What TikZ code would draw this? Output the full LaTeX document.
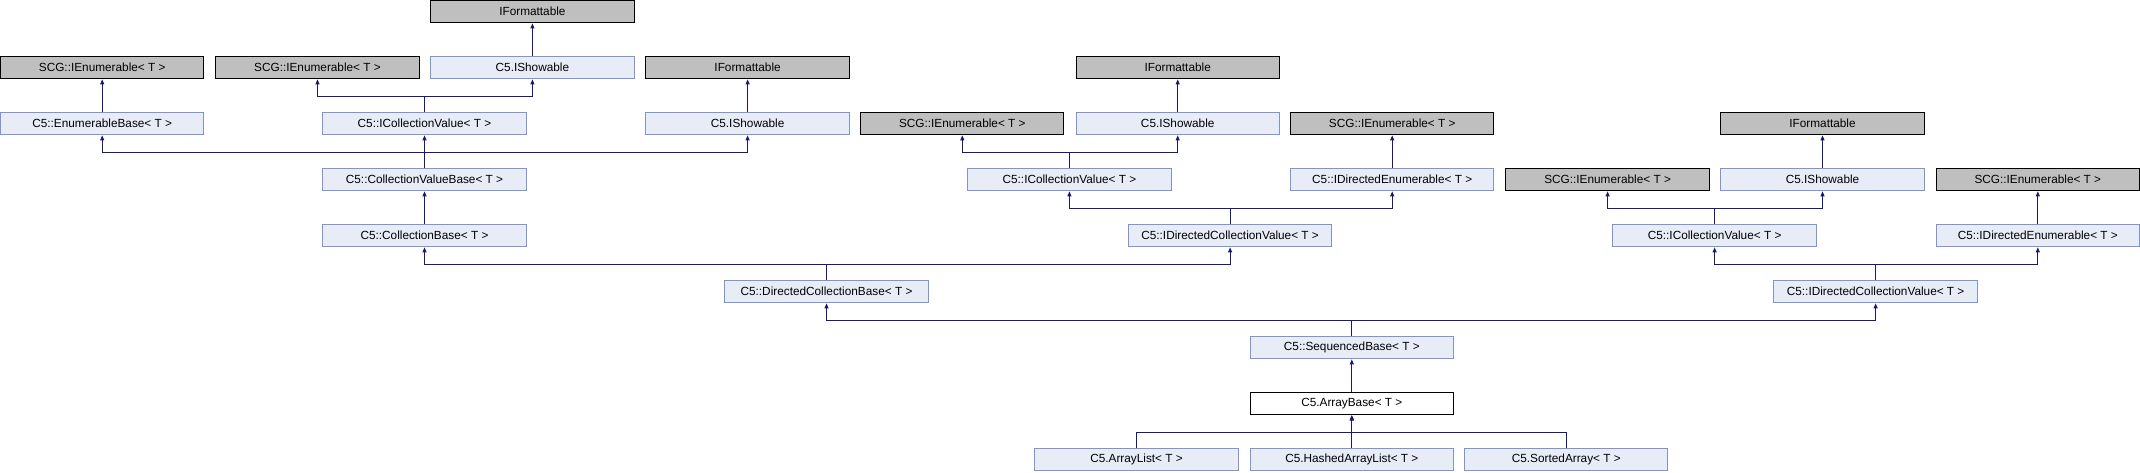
\documentclass[tikz,border=0pt]{standalone}
\usepackage{fontspec}
\setmainfont{Liberation Sans}
\usetikzlibrary{arrows.meta,positioning}
\definecolor{edgeblue}{HTML}{191970}
\definecolor{clsfill}{HTML}{E8ECF6}
\definecolor{clsdraw}{HTML}{7C95CE}
\definecolor{extfill}{HTML}{BFBFBF}

\begin{document}
\begin{tikzpicture}[x=1pt, y=1pt,
  cls/.style={rectangle, draw=#1, line width=1pt, minimum width=203.3pt, minimum height=22.3pt, inner sep=0pt, font=\fontsize{11.8}{13}\selectfont},
  cls/.default=clsdraw,
  inh/.style={cls, fill=clsfill},
  ext/.style={cls=black, fill=extfill},
  cur/.style={cls=black, fill=white},
  arr/.style={-{Triangle[length=5pt, width=4pt]}, line width=1pt, edgeblue}
]
  \useasboundingbox (0,0) rectangle (2140,-472);

  % left group
  \node[ext] (fmtA) at (532.4,-11.7) {IFormattable};
  \node[ext] (enumA) at (102.2,-67.7) {SCG::IEnumerable< T >};
  \node[ext] (enumB) at (317.5,-67.7) {SCG::IEnumerable< T >};
  \node[inh] (showA) at (532.4,-67.7) {C5.IShowable};
  \node[ext] (fmtB) at (747.6,-67.7) {IFormattable};
  \node[inh] (enumBase) at (102.2,-123.7) {C5::EnumerableBase< T >};
  \node[inh] (colValA) at (424.5,-123.7) {C5::ICollectionValue< T >};
  \node[inh] (showB) at (747.6,-123.7) {C5.IShowable};
  \node[inh] (colValBase) at (424.5,-179.7) {C5::CollectionValueBase< T >};
  \node[inh] (colBase) at (424.5,-235.7) {C5::CollectionBase< T >};

  % middle group
  \node[ext] (fmtC) at (1177.7,-67.7) {IFormattable};
  \node[ext] (enumC) at (962.3,-123.7) {SCG::IEnumerable< T >};
  \node[inh] (showC) at (1177.7,-123.7) {C5.IShowable};
  \node[ext] (enumD) at (1392.2,-123.7) {SCG::IEnumerable< T >};
  \node[inh] (colValB) at (1069.4,-179.7) {C5::ICollectionValue< T >};
  \node[inh] (dirEnumA) at (1392.2,-179.7) {C5::IDirectedEnumerable< T >};
  \node[inh] (dirColValA) at (1230.1,-235.7) {C5::IDirectedCollectionValue< T >};

  % right group
  \node[ext] (fmtD) at (1822.5,-123.7) {IFormattable};
  \node[ext] (enumE) at (1607.6,-179.7) {SCG::IEnumerable< T >};
  \node[inh] (showD) at (1822.5,-179.7) {C5.IShowable};
  \node[ext] (enumF) at (2037.8,-179.7) {SCG::IEnumerable< T >};
  \node[inh] (colValC) at (1714.6,-235.7) {C5::ICollectionValue< T >};
  \node[inh] (dirEnumB) at (2037.8,-235.7) {C5::IDirectedEnumerable< T >};
  \node[inh] (dirColValB) at (1875.6,-291.7) {C5::IDirectedCollectionValue< T >};

  % main chain
  \node[inh] (dirColBase) at (826.5,-291.7) {C5::DirectedCollectionBase< T >};
  \node[inh] (seqBase) at (1351.8,-347.7) {C5::SequencedBase< T >};
  \node[cur] (arrBase) at (1351.8,-403.7) {C5.ArrayBase< T >};
  \node[inh] (arrList) at (1136.5,-459.7) {C5.ArrayList< T >};
  \node[inh] (hashList) at (1351.8,-459.7) {C5.HashedArrayList< T >};
  \node[inh] (sortArr) at (1566.3,-459.7) {C5.SortedArray< T >};

  % inheritance edges
  \draw[arr] (showA) -- (fmtA);
  \draw[arr] (enumBase) -- (enumA);
  \draw[arr] (colValA.north) -- ++(0,16) -| (enumB.south);
  \draw[arr] (colValA.north) -- ++(0,16) -| (showA.south);
  \draw[arr] (showB) -- (fmtB);
  \draw[arr] (colValBase.north) -- ++(0,16) -| (enumBase.south);
  \draw[arr] (colValBase.north) -- ++(0,16) -| (colValA.south);
  \draw[arr] (colValBase.north) -- ++(0,16) -| (showB.south);
  \draw[arr] (colBase) -- (colValBase);

  \draw[arr] (showC) -- (fmtC);
  \draw[arr] (colValB.north) -- ++(0,16) -| (enumC.south);
  \draw[arr] (colValB.north) -- ++(0,16) -| (showC.south);
  \draw[arr] (dirEnumA) -- (enumD);
  \draw[arr] (dirColValA.north) -- ++(0,16) -| (colValB.south);
  \draw[arr] (dirColValA.north) -- ++(0,16) -| (dirEnumA.south);

  \draw[arr] (showD) -- (fmtD);
  \draw[arr] (colValC.north) -- ++(0,16) -| (enumE.south);
  \draw[arr] (colValC.north) -- ++(0,16) -| (showD.south);
  \draw[arr] (dirEnumB) -- (enumF);
  \draw[arr] (dirColValB.north) -- ++(0,16) -| (colValC.south);
  \draw[arr] (dirColValB.north) -- ++(0,16) -| (dirEnumB.south);

  \draw[arr] (dirColBase.north) -- ++(0,16) -| (colBase.south);
  \draw[arr] (dirColBase.north) -- ++(0,16) -| (dirColValA.south);
  \draw[arr] (seqBase.north) -- ++(0,16) -| (dirColBase.south);
  \draw[arr] (seqBase.north) -- ++(0,16) -| (dirColValB.south);
  \draw[arr] (arrBase) -- (seqBase);
  \draw[arr] (arrList.north) -- ++(0,16) -| (arrBase.south);
  \draw[arr] (hashList.north) -- ++(0,16) -| (arrBase.south);
  \draw[arr] (sortArr.north) -- ++(0,16) -| (arrBase.south);
\end{tikzpicture}
\end{document}
